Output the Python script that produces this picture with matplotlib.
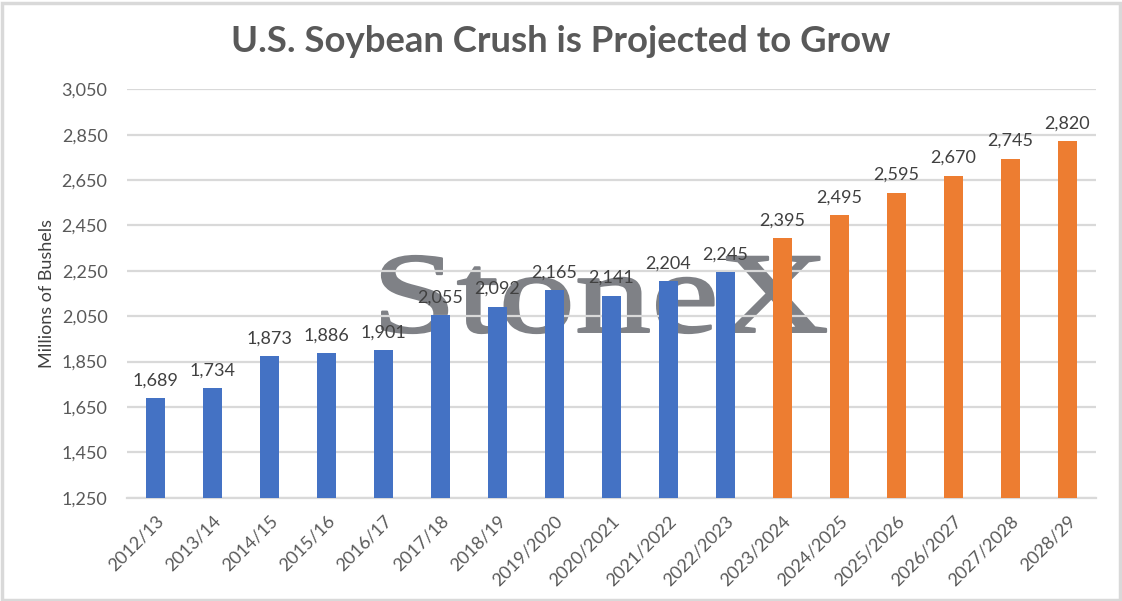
import matplotlib
matplotlib.use("Agg")
import matplotlib.pyplot as plt
from matplotlib.patches import Rectangle, PathPatch
from matplotlib.textpath import TextPath
from matplotlib.font_manager import FontProperties
from matplotlib.transforms import Affine2D
import matplotlib.ticker as mticker
import numpy as np

seasons = ["2012/13", "2013/14", "2014/15", "2015/16", "2016/17", "2017/18",
           "2018/19", "2019/2020", "2020/2021", "2021/2022", "2022/2023",
           "2023/2024", "2024/2025", "2025/2026", "2026/2027", "2027/2028", "2028/29"]
crush = [1689, 1734, 1873, 1886, 1901, 2055, 2092, 2165, 2141, 2204, 2245,
         2395, 2495, 2595, 2670, 2745, 2820]
n_actual = 11  # first 11 are history, rest projected

blue = "#4472C4"
orange = "#ED7D31"
grid_col = "#D9D9D9"
txt_col = "#595959"
wm_col = "#7F8186"

plt.rcParams['font.family'] = ['Lato', 'DejaVu Sans']

W, H = 1122, 601
fig = plt.figure(figsize=(W / 100, H / 100), dpi=100)
ax = fig.add_axes([127 / W, 1 - 497.7 / H, (1096 - 127) / W, (497.7 - 89.3) / H])

# frame around the whole chart
fig.patches.append(Rectangle((1.5 / W, 1.5 / H), 1 - 4 / W, 1 - 4 / H,
                             transform=fig.transFigure, fill=False,
                             edgecolor=grid_col, lw=2.5, zorder=0))

x = np.arange(len(seasons))
colors = [blue if i < n_actual else orange for i in range(len(seasons))]
bars = ax.bar(x, crush, width=0.32, color=colors, zorder=3)

for xi, v in zip(x, crush):
    ax.annotate(f"{v:,}", (xi, v), xytext=(0, 7), textcoords="offset points",
                ha="center", va="bottom", fontsize=13, color="#404040", zorder=5)

ax.set_xlim(-0.5, len(seasons) - 0.5)
ax.set_ylim(1250, 3050)
ax.set_yticks(np.arange(1250, 3051, 200))
ax.yaxis.set_major_formatter(mticker.FuncFormatter(lambda v, p: f"{int(v):,}"))
ax.grid(axis="y", color=grid_col, lw=1.6, zorder=1)
ax.set_axisbelow(False)
for s in ["top", "right", "left"]:
    ax.spines[s].set_visible(False)
ax.spines["bottom"].set_color(grid_col)
ax.spines["bottom"].set_linewidth(1.6)
ax.spines["bottom"].set_zorder(2)
ax.tick_params(axis="both", length=0, colors=txt_col, labelsize=13)
ax.tick_params(axis="y", pad=14)
ax.set_xticks(x)
ax.set_xticklabels(seasons, rotation=45, ha="right", rotation_mode="anchor")
for lab in ax.get_xticklabels():
    lab.set_y(-0.025)

ax.set_ylabel("Millions of Bushels", fontsize=13, color="#404040", labelpad=5)

fig.text(0.5, 1 - 42 / H, "U.S. Soybean Crush is Projected to Grow", ha="center",
         va="center", fontsize=26.3, fontweight="bold", color=txt_col)

# StoneX watermark, stretched to the box it fills in the picture
tp = TextPath((0, 0), "StoneX", size=1, prop=FontProperties(family="Liberation Serif"))
ext = tp.get_extents()
x0, x1 = 382, 826
y0, y1 = H - 333, H - 256
tr = Affine2D().translate(-ext.x0, -ext.y0).scale((x1 - x0) / ext.width,
                                                   (y1 - y0) / ext.height).translate(x0, y0)
wm = PathPatch(tr.transform_path(tp), facecolor=wm_col, edgecolor=wm_col,
               lw=1.6, joinstyle="round", transform=None, zorder=0.5)
ax.add_artist(wm)

fig.savefig("out.png", dpi=100)
